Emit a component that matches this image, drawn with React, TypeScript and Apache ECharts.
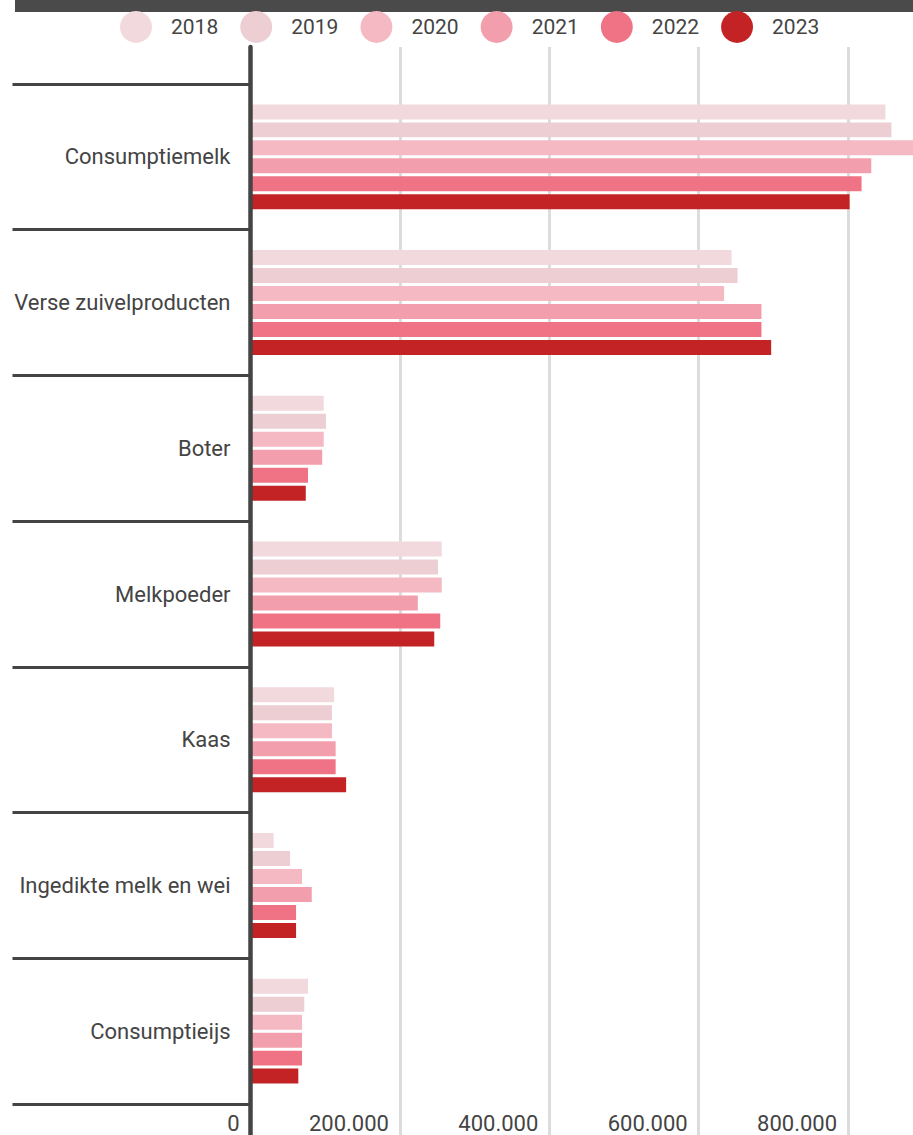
import React, { useEffect, useRef } from "react";
import * as echarts from "echarts";

const categories = [
  "Consumptiemelk",
  "Verse zuivelproducten",
  "Boter",
  "Melkpoeder",
  "Kaas",
  "Ingedikte melk en wei",
  "Consumptieijs",
];
const years = ["2018", "2019", "2020", "2021", "2022", "2023"];
const v2018 = [850000, 644000, 98000, 256000, 112000, 31000, 77000];
const v2019 = [858000, 652000, 101000, 251000, 109000, 53000, 72000];
const v2020 = [895000, 634000, 98000, 256000, 109000, 69000, 69000];
const v2021 = [831000, 684000, 96000, 224000, 114000, 82000, 69000];
const v2022 = [818000, 684000, 77000, 254000, 114000, 61000, 69000];
const v2023 = [802000, 697000, 74000, 246000, 128000, 61000, 64000];
const seriesValues = [v2018, v2019, v2020, v2021, v2022, v2023];
const colors = ["#f1d9dd", "#ecced3", "#f4b9c2", "#f39eac", "#ef7385", "#c42326"];
const xTicks = [0, 200000, 400000, 600000, 800000, 1000000];

const fmt = (v: number) =>
  String(Math.round(v)).replace(/\B(?=(\d{3})+(?!\d))/g, ".");

export default function App() {
  const ref = useRef<HTMLDivElement>(null);
  useEffect(() => {
    if (!ref.current) return;
    const chart = echarts.init(ref.current, null, { renderer: "svg" });
    const FONT = "Roboto";
    const xMax = xTicks[xTicks.length - 1];
    const interval = xTicks[1] - xTicks[0];
    chart.setOption({
      animation: false,
      textStyle: { fontFamily: FONT },
      graphic: [
        {
          type: "rect",
          shape: { x: 15, y: 0, width: 985, height: 12 },
          style: { fill: "#4a4a4a" },
        },
      ],
      legend: {
        data: years,
        left: 120,
        top: 11,
        padding: 0,
        itemWidth: 32,
        itemHeight: 32,
        itemGap: 22,
        icon: "circle",
        textStyle: {
          fontSize: 21,
          color: "#444",
          fontFamily: FONT,
          padding: [0, 0, 0, 14],
        },
      },
      grid: [
        { left: 250.5, top: 84, width: 747, height: 1020, containLabel: false },
        { left: 250.5, top: 47, width: 747, height: 1113, containLabel: false },
      ],
      xAxis: [
        {
          gridIndex: 0,
          type: "value",
          min: 0,
          max: xMax,
          interval,
          show: false,
        },
        {
          gridIndex: 1,
          type: "value",
          min: 0,
          max: xMax,
          interval,
          position: "bottom",
          axisLine: { show: false },
          axisTick: { show: false },
          splitLine: { show: true, lineStyle: { color: "#dcdcdc", width: 3 } },
          axisLabel: {
            inside: true,
            margin: 26,
            align: "right",
            padding: [0, 11, 0, 0],
            fontSize: 22,
            color: "#444",
            fontFamily: FONT,
            showMaxLabel: false,
            formatter: (v: number) => fmt(v),
          },
        },
      ],
      yAxis: [
        {
          gridIndex: 0,
          type: "category",
          data: categories,
          inverse: true,
          axisLine: { show: false },
          axisTick: {
            show: true,
            length: 238,
            lineStyle: { color: "#444", width: 3 },
          },
          axisLabel: {
            margin: 20,
            fontSize: 22,
            color: "#444",
            fontFamily: FONT,
          },
          splitLine: { show: false },
        },
        {
          gridIndex: 1,
          type: "value",
          min: 0,
          max: 1,
          z: 10,
          axisLine: { show: true, lineStyle: { color: "#444", width: 4.5 } },
          axisTick: { show: false },
          axisLabel: { show: false },
          splitLine: { show: false },
        },
      ],
      series: years.map((y, i) => ({
        name: y,
        type: "bar",
        xAxisIndex: 0,
        yAxisIndex: 0,
        data: seriesValues[i],
        itemStyle: { color: colors[i] },
        barCategoryGap: "28%",
        barGap: "20%",
      })),
    });
    return () => chart.dispose();
  }, []);
  return (
    <div
      style={{
        position: "absolute",
        left: 0,
        top: 0,
        width: 913,
        height: 1135,
        overflow: "hidden",
        background: "#fff",
      }}
    >
      <div ref={ref} style={{ width: 1000, height: 1200 }} />
    </div>
  );
}
